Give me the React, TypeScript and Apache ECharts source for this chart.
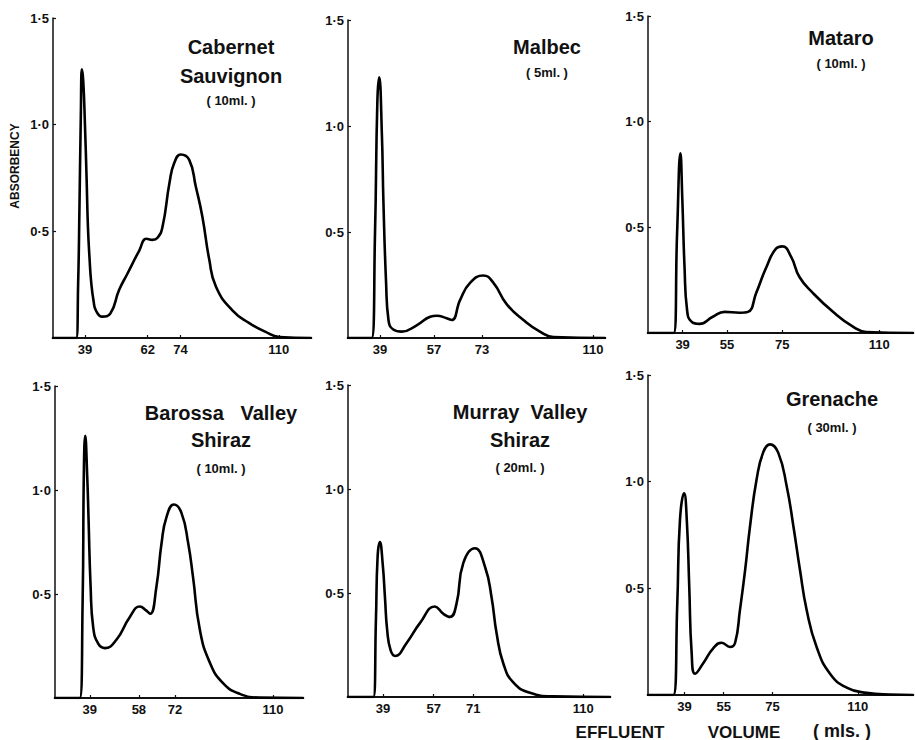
import React, { useEffect, useRef } from "react";
import * as echarts from "echarts";

// ---- Data (effluent volume in ml, absorbency) ----
const cabernetVolume = [27.3, 35.8, 36.5, 37.0, 37.5, 37.9, 38.4, 39.0, 39.6, 40.1, 40.7, 41.3, 42.2, 43.0, 45.3, 48.3, 51.5, 54.5, 58.9, 61.5, 63.7, 65.6, 67.4, 70.0, 71.7, 74.1, 77.2, 79.6, 82.0, 84.5, 87.0, 93.0, 99.2, 105.0, 110.2, 121.8];
const cabernetAbs = [0, 0, 0.25, 0.62, 1.05, 1.26, 1.2, 1.0, 0.75, 0.52, 0.37, 0.26, 0.17, 0.13, 0.10, 0.115, 0.225, 0.3, 0.41, 0.465, 0.46, 0.47, 0.52, 0.73, 0.82, 0.86, 0.835, 0.71, 0.57, 0.37, 0.24, 0.13, 0.07, 0.03, 0.005, 0];
const cabernetTicks = [39, 62, 74, 110];

const malbecVolume = [28.3, 36.2, 37.3, 38.1, 38.7, 39.6, 40.1, 41.0, 41.8, 43.4, 46.2, 51.2, 55.7, 57.9, 61.2, 62.9, 65.7, 69.0, 73.4, 76.8, 81.2, 86.8, 92.3, 96.8, 114.0];
const malbecAbs = [0, 0, 0.49, 1.12, 1.23, 0.96, 0.65, 0.26, 0.085, 0.04, 0.03, 0.06, 0.1, 0.105, 0.093, 0.085, 0.18, 0.26, 0.295, 0.26, 0.16, 0.085, 0.03, 0.005, 0];
const malbecTicks = [39, 57, 73, 110];

const mataroVolume = [26.5, 35.8, 37.0, 38.2, 38.9, 39.7, 40.6, 42.1, 45.1, 49.9, 54.2, 59.6, 62.6, 65.6, 69.2, 72.8, 75.0, 78.2, 81.2, 86.0, 93.3, 100.5, 105.3, 122.2];
const mataroAbs = [0, 0, 0.47, 0.85, 0.63, 0.31, 0.11, 0.055, 0.043, 0.077, 0.1, 0.096, 0.1, 0.19, 0.31, 0.4, 0.41, 0.36, 0.265, 0.19, 0.1, 0.03, 0.005, 0];
const mataroTicks = [39, 55, 75, 110];

const barossaVolume = [25.5, 35.1, 36.2, 36.7, 37.2, 38.0, 38.5, 39.3, 40.3, 42.3, 44.8, 49.3, 54.5, 58.4, 60.9, 62.4, 64.8, 66.8, 68.7, 71.6, 74.5, 77.1, 79.0, 81.6, 85.5, 90.7, 97.1, 104.9, 121.6];
const barossaAbs = [0, 0, 0.46, 1.1, 1.26, 1.06, 0.86, 0.535, 0.34, 0.26, 0.24, 0.28, 0.39, 0.44, 0.42, 0.405, 0.535, 0.745, 0.87, 0.93, 0.89, 0.745, 0.58, 0.33, 0.17, 0.07, 0.02, 0.002, 0];
const barossaTicks = [39, 58, 72, 110];

const murrayVolume = [26.6, 35.6, 36.5, 37.1, 37.9, 38.9, 39.7, 40.5, 41.7, 43.3, 47.4, 52.1, 57.4, 60.4, 62.8, 65.1, 67.5, 71.6, 75.2, 77.5, 79.3, 81.7, 85.2, 91.1, 99.4, 119.5];
const murrayAbs = [0, 0, 0.37, 0.675, 0.745, 0.64, 0.48, 0.32, 0.225, 0.197, 0.26, 0.355, 0.435, 0.4, 0.385, 0.45, 0.645, 0.715, 0.625, 0.48, 0.305, 0.16, 0.07, 0.02, 0.003, 0];
const murrayTicks = [39, 57, 71, 110];

const grenacheVolume = [24.0, 34.4, 36.0, 37.1, 38.8, 39.9, 40.9, 41.9, 43.3, 46.7, 50.8, 54.2, 57.6, 59.7, 61.7, 63.8, 65.8, 68.5, 71.3, 74.0, 77.4, 80.9, 83.6, 86.3, 89.0, 93.1, 98.6, 105.4, 113.6, 123.1, 132.6];
const grenacheAbs = [0, 0, 0.43, 0.82, 0.945, 0.82, 0.51, 0.195, 0.10, 0.15, 0.22, 0.245, 0.225, 0.245, 0.4, 0.585, 0.79, 1.01, 1.14, 1.175, 1.135, 0.975, 0.79, 0.585, 0.4, 0.225, 0.1, 0.035, 0.01, 0.002, 0];
const grenacheTicks = [39, 55, 75, 110];

const yTickValues = [0, 0.5, 1.0, 1.5];

const wineNames = [
  ["Cabernet", "Sauvignon"],
  ["Malbec"],
  ["Mataro"],
  ["Barossa   Valley", "Shiraz"],
  ["Murray  Valley", "Shiraz"],
  ["Grenache"],
];
const sampleVolumes = ["( 10ml. )", "( 5ml. )", "( 10ml. )", "( 10ml. )", "( 20ml. )", "( 30ml. )"];

const seriesData = [
  [cabernetVolume, cabernetAbs, cabernetTicks],
  [malbecVolume, malbecAbs, malbecTicks],
  [mataroVolume, mataroAbs, mataroTicks],
  [barossaVolume, barossaAbs, barossaTicks],
  [murrayVolume, murrayAbs, murrayTicks],
  [grenacheVolume, grenacheAbs, grenacheTicks],
] as const;

// ---- Layout (pixels) ----
const layout = [
  { left: 53, top: 18, width: 258, height: 320, min: 27.3, max: 121.8, title: { x: 231, ys: [47, 76], sub: 100 } },
  { left: 348, top: 20, width: 257, height: 318, min: 28.3, max: 114.0, title: { x: 547, ys: [47], sub: 72 } },
  { left: 648, top: 16, width: 265, height: 317, min: 26.5, max: 122.2, title: { x: 841, ys: [38], sub: 63 } },
  { left: 55, top: 386, width: 248, height: 312, min: 25.5, max: 121.6, title: { x: 221, ys: [413, 440], sub: 468 } },
  { left: 348, top: 385, width: 262, height: 312, min: 26.6, max: 119.5, title: { x: 520, ys: [412, 440], sub: 467 } },
  { left: 648, top: 375, width: 265, height: 320, min: 24.0, max: 132.6, title: { x: 832, ys: [399], sub: 427 } },
];

const FONT = "'Liberation Sans', Arial, sans-serif";
const INK = "#111";

export default function App() {
  const ref = useRef<HTMLDivElement>(null);
  useEffect(() => {
    if (!ref.current) return;
    const chart = echarts.init(ref.current, undefined, { renderer: "svg" });

    const grids = layout.map((l) => ({ left: l.left, top: l.top, width: l.width, height: l.height, containLabel: false }));
    const xAxes = layout.map((l, i) => ({
      type: "value",
      gridIndex: i,
      min: l.min,
      max: l.max,
      axisLine: { show: true, lineStyle: { color: INK, width: 2 } },
      axisTick: { show: true, inside: true, length: 3, customValues: seriesData[i][2], lineStyle: { color: INK, width: 1.2 } },
      axisLabel: {
        show: true,
        customValues: seriesData[i][2],
        color: INK,
        fontFamily: FONT,
        fontWeight: "bold",
        fontSize: 13,
        margin: 5,
      },
      splitLine: { show: false },
    }));
    const yAxes = layout.map((_, i) => ({
      type: "value",
      gridIndex: i,
      min: 0,
      max: 1.5,
      interval: 0.5,
      axisLine: { show: true, lineStyle: { color: INK, width: 1.5 } },
      axisTick: { show: true, inside: true, length: 3, customValues: yTickValues.slice(1), lineStyle: { color: INK, width: 1.2 } },
      axisLabel: {
        color: INK,
        fontFamily: FONT,
        fontWeight: "bold",
        fontSize: 13,
        margin: 4,
        formatter: (v: number) => (v === 0 ? "" : v.toFixed(1).replace(".", "·")),
      },
      splitLine: { show: false },
    }));
    const series = seriesData.map((d, i) => ({
      type: "line",
      name: wineNames[i].join(" "),
      xAxisIndex: i,
      yAxisIndex: i,
      data: (d[0] as readonly number[]).map((x, k) => [x, (d[1] as readonly number[])[k]]),
      smooth: 0.5,
      showSymbol: false,
      lineStyle: { color: "#000", width: 2.6, join: "round", cap: "round" },
      z: 5,
    }));

    const graphics: any[] = [];
    layout.forEach((l, i) => {
      wineNames[i].forEach((line, k) => {
        graphics.push({
          type: "text",
          x: l.title.x,
          y: l.title.ys[k],
          style: { text: line, fill: INK, font: `bold 20px ${FONT}`, align: "center", verticalAlign: "middle" },
        });
      });
      graphics.push({
        type: "text",
        x: l.title.x,
        y: l.title.sub,
        style: { text: sampleVolumes[i], fill: INK, font: `bold 13px ${FONT}`, align: "center", verticalAlign: "middle" },
      });
    });
    graphics.push({
      type: "text",
      x: 15,
      y: 166,
      rotation: Math.PI / 2,
      style: { text: "ABSORBENCY", fill: INK, font: `bold 12px ${FONT}`, align: "center", verticalAlign: "middle" },
    });
    graphics.push({
      type: "text",
      x: 620,
      y: 732,
      style: { text: "EFFLUENT", fill: INK, font: `bold 17px ${FONT}`, align: "center", verticalAlign: "middle" },
    });
    graphics.push({
      type: "text",
      x: 744,
      y: 732,
      style: { text: "VOLUME", fill: INK, font: `bold 17px ${FONT}`, align: "center", verticalAlign: "middle" },
    });
    graphics.push({
      type: "text",
      x: 842,
      y: 731,
      style: { text: "( mls. )", fill: INK, font: `bold 18px ${FONT}`, align: "center", verticalAlign: "middle" },
    });

    chart.setOption({
      animation: false,
      backgroundColor: "#fff",
      grid: grids,
      xAxis: xAxes,
      yAxis: yAxes,
      series,
      graphic: graphics,
    });
    return () => chart.dispose();
  }, []);

  return (
    <div
      ref={ref}
      style={{ position: "absolute", left: 0, top: 0, width: 915, height: 740, background: "#fff" }}
    />
  );
}
